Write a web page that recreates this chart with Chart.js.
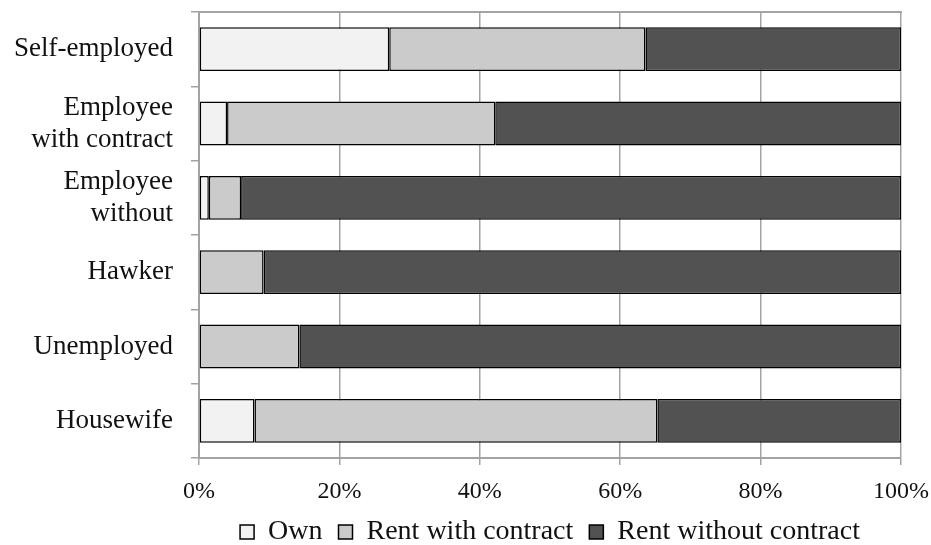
<!DOCTYPE html>
<html>
<head>
<meta charset="utf-8">
<script src="https://cdn.jsdelivr.net/npm/chart.js@4.4.1/dist/chart.umd.min.js"></script>
<style>
  html, body { margin: 0; padding: 0; background: #ffffff; }
  #wrap { width: 931px; height: 545px; position: relative; }
</style>
</head>
<body>
<div id="wrap"><canvas id="c"></canvas></div>
<script>
const categories = ['Self-employed', ['Employee', 'with contract'], ['Employee', 'without'], 'Hawker', 'Unemployed', 'Housewife'];
const own = [27.1, 4.0, 1.4, 0, 0, 7.9];
const rentWithContract = [36.5, 38.2, 4.6, 9.2, 14.3, 57.4];
const rentWithoutContract = [36.4, 57.8, 94.0, 90.8, 85.7, 34.7];
const seriesNames = ['Own', 'Rent with contract', 'Rent without contract'];
const xTicks = [0, 20, 40, 60, 80, 100];

const FONT = "'Liberation Serif', 'Times New Roman', serif";
const GRID = '#a3a3a3';

const ds = (label, data, color) => ({
  label, data,
  backgroundColor: color,
  borderColor: '#000000',
  borderWidth: 1.5,
  borderSkipped: false,
  barPercentage: 0.59,
  categoryPercentage: 1.0
});

new Chart(document.getElementById('c'), {
  type: 'bar',
  data: {
    labels: categories,
    datasets: [
      ds(seriesNames[0], own, '#f2f2f2'),
      ds(seriesNames[1], rentWithContract, '#cbcbcb'),
      ds(seriesNames[2], rentWithoutContract, '#525252')
    ]
  },
  options: {
    indexAxis: 'y',
    responsive: true,
    maintainAspectRatio: false,
    animation: false,
    layout: { padding: { top: 12, right: 30, left: 0, bottom: -11 } },
    scales: {
      x: {
        stacked: true,
        min: 0, max: 100,
        afterBuildTicks: s => { s.ticks = xTicks.map(v => ({ value: v })); },
        afterFit: s => { s.height = 44; s.paddingRight = 0; s.paddingLeft = 0; },
        ticks: {
          callback: v => v + '%',
          color: '#111111',
          font: { family: FONT, size: 24 },
          padding: 12,
          maxRotation: 0
        },
        grid: { color: GRID, lineWidth: 1.5, tickLength: 7, drawTicks: true },
        border: { color: GRID, width: 2 }
      },
      xTop: {
        type: 'linear',
        position: 'top',
        min: 0, max: 100,
        afterFit: s => { s.height = 0; },
        ticks: { display: false },
        grid: { drawOnChartArea: false, drawTicks: false },
        border: { display: true, color: GRID, width: 2 }
      },
      y: {
        stacked: true,
        afterFit: s => { s.width = 199; s.paddingTop = 0; s.paddingBottom = 0; },
        ticks: {
          color: '#111111',
          font: { family: FONT, size: 27, lineHeight: 1.19 },
          padding: 18
        },
        grid: { drawOnChartArea: false, color: GRID, lineWidth: 1.5, tickLength: 8, offset: true },
        border: { color: GRID, width: 2 }
      }
    },
    plugins: {
      legend: {
        position: 'bottom',
        fullSize: false,
        labels: {
          boxWidth: 14, boxHeight: 14,
          color: '#111111',
          font: { family: FONT, size: 28 },
          padding: 16
        }
      },
      tooltip: { enabled: false }
    }
  }
});
</script>
</body>
</html>
